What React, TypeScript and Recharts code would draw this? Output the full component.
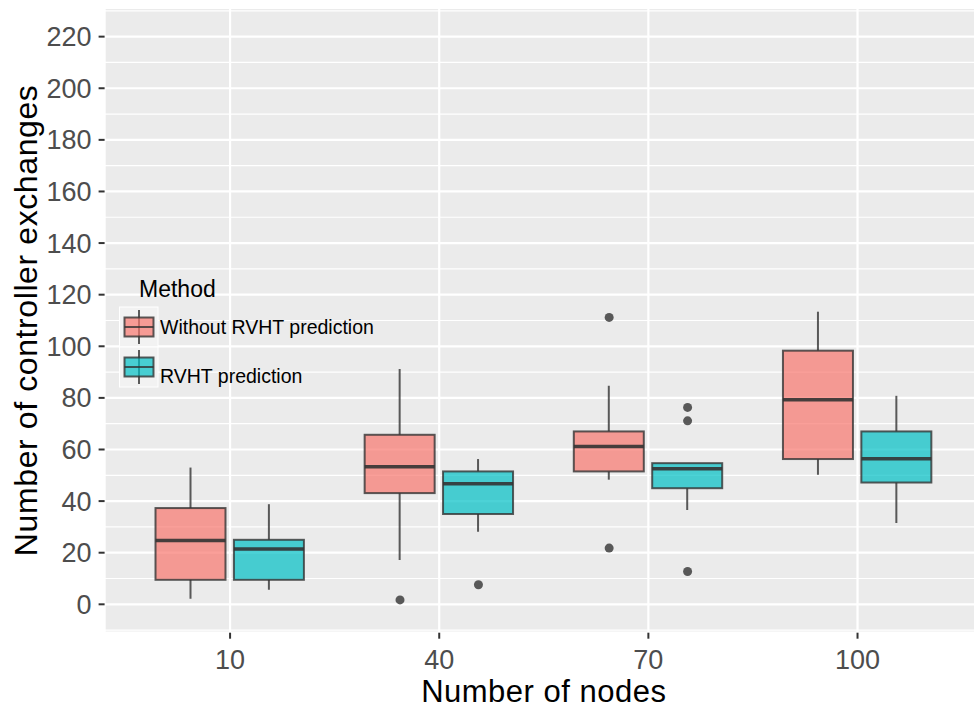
import React from "react";
import { ComposedChart, Bar, Scatter, XAxis, YAxis, CartesianGrid, Legend } from "recharts";

const NODES = ["10", "40", "70", "100"];

// box statistics per node count: whisker ends, quartiles, median
const WITHOUT_LOW = [2.2, 17.2, 48.3, 50.2];
const WITHOUT_Q1 = [9.5, 43.1, 51.5, 56.3];
const WITHOUT_MEDIAN = [24.7, 53.3, 61.2, 79.3];
const WITHOUT_Q3 = [37.3, 65.7, 67, 98.3];
const WITHOUT_HIGH = [53, 91.2, 84.7, 113.4];
const WITHOUT_OUTLIERS = [[], [1.7], [111.2, 21.8], []];

const RVHT_LOW = [5.6, 28.1, 36.6, 31.5];
const RVHT_Q1 = [9.5, 35, 45, 47.2];
const RVHT_MEDIAN = [21.4, 46.7, 52.5, 56.4];
const RVHT_Q3 = [25, 51.5, 54.7, 67];
const RVHT_HIGH = [38.8, 56.3, 54.7, 80.8];
const RVHT_OUTLIERS = [[], [7.6], [76.3, 71.1, 12.7], []];

const Y_TICKS = [0, 20, 40, 60, 80, 100, 120, 140, 160, 180, 200, 220];
const Y_MINOR = [-10, 10, 30, 50, 70, 90, 110, 130, 150, 170, 190, 210, 230];
const Y_DOMAIN = [-11, 231.1];

const FONT = "'Liberation Sans', Arial, sans-serif";
const DODGE = 0.1875;

const SERIES = [
  {
    key: "without",
    name: "Without RVHT prediction",
    color: "#F8766D",
    low: WITHOUT_LOW,
    q1: WITHOUT_Q1,
    median: WITHOUT_MEDIAN,
    q3: WITHOUT_Q3,
    high: WITHOUT_HIGH,
    outliers: WITHOUT_OUTLIERS,
  },
  {
    key: "rvht",
    name: "RVHT prediction",
    color: "#00BFC4",
    low: RVHT_LOW,
    q1: RVHT_Q1,
    median: RVHT_MEDIAN,
    q3: RVHT_Q3,
    high: RVHT_HIGH,
    outliers: RVHT_OUTLIERS,
  },
];

const rows = NODES.map((nodes, i) => {
  const row: any = { nodes };
  SERIES.forEach((s) => {
    row[s.key] = { low: s.low[i], q1: s.q1[i], median: s.median[i], q3: s.q3[i], high: s.high[i] };
  });
  return row;
});

// outliers sit on a numeric copy of the x axis, dodged like the boxes
const outlierPoints = SERIES.flatMap((s, si) =>
  s.outliers.flatMap((vals, gi) =>
    vals.map((value) => ({ pos: gi + (si === 0 ? -DODGE : DODGE), value }))
  )
);

const LINE = "#333333";

function BoxShape(props: any) {
  const { x, y, width, height, stats, color } = props;
  if (!stats) return null;
  const top = Math.min(y, y + height);
  const h = Math.abs(height);
  const k = h / (stats.q3 - stats.q1);
  const py = (v: number) => top + (stats.q3 - v) * k;
  const cx = x + width / 2;
  return (
    <g>
      <line x1={cx} x2={cx} y1={py(stats.high)} y2={top} stroke={LINE} strokeOpacity={0.8} strokeWidth={2} />
      <line x1={cx} x2={cx} y1={top + h} y2={py(stats.low)} stroke={LINE} strokeOpacity={0.8} strokeWidth={2} />
      <rect x={x} y={top} width={width} height={h} fill={color} fillOpacity={0.7} stroke={LINE} strokeOpacity={0.8} strokeWidth={2} />
      <line x1={x} x2={x + width} y1={py(stats.median)} y2={py(stats.median)} stroke={LINE} strokeOpacity={0.9} strokeWidth={3.5} />
    </g>
  );
}

function MethodLegend() {
  return (
    <svg width={300} height={130} style={{ display: "block", overflow: "visible" }}>
      <text x={29} y={27} fontFamily={FONT} fontSize={23} fill="#000">
        Method
      </text>
      {SERIES.map((s, i) => {
        const top = 37 + i * 40;
        const mid = top + 20;
        return (
          <g key={s.key}>
            <rect x={9.5} y={top} width={38.5} height={40} fill="#F2F2F2" stroke="#fff" strokeWidth={1} />
            <line x1={29} x2={29} y1={top + 3} y2={top + 37} stroke={LINE} strokeOpacity={0.8} strokeWidth={2} />
            <rect x={14.5} y={mid - 9.5} width={29} height={19} fill={s.color} fillOpacity={0.7} stroke={LINE} strokeOpacity={0.8} strokeWidth={2} />
            <line x1={14.5} x2={43.5} y1={mid} y2={mid} stroke={LINE} strokeOpacity={0.8} strokeWidth={2} />
            <text x={50} y={mid + 6.5 + i * 9.5} fontFamily={FONT} fontSize={19.5} fill="#000">
              {s.name}
            </text>
          </g>
        );
      })}
    </svg>
  );
}

export default function App() {
  return (
    <div style={{ position: "absolute", left: 0, top: 0, width: 974, height: 711, overflow: "hidden", background: "#fff" }}>
      <ComposedChart
        width={1000}
        height={711}
        data={rows}
        margin={{ top: 8, right: 17, bottom: 0, left: 0 }}
        barSize={70}
        barGap={8.4}
      >
        <CartesianGrid yAxisId="minor" vertical={false} fill="#EBEBEB" stroke="#fff" strokeWidth={1.2} />
        <CartesianGrid stroke="#fff" strokeWidth={2.2} />
        <XAxis
          dataKey="nodes"
          type="category"
          height={78.3}
          padding={{ left: 20.9, right: 20.9 }}
          axisLine={false}
          tickSize={6}
          tickMargin={11}
          tickLine={{ stroke: LINE, strokeWidth: 2 }}
          tick={{ fill: "#4D4D4D", fontSize: 27, fontFamily: FONT }}
          label={{
            content: ({ viewBox }: any) => (
              <text
                x={viewBox.x + viewBox.width / 2}
                y={viewBox.y + viewBox.height - 9}
                textAnchor="middle"
                fontFamily={FONT}
                fontSize={31}
                letterSpacing={0.5}
                fill="#000"
              >
                Number of nodes
              </text>
            ),
          }}
        />
        <XAxis xAxisId="pos" dataKey="pos" type="number" domain={[-0.6, 3.6]} allowDataOverflow hide />
        <YAxis
          type="number"
          domain={Y_DOMAIN}
          allowDataOverflow
          ticks={Y_TICKS}
          width={104.6}
          axisLine={false}
          tickSize={6}
          tickMargin={7}
          tickLine={{ stroke: LINE, strokeWidth: 2 }}
          tick={{ fill: "#4D4D4D", fontSize: 27, fontFamily: FONT }}
          label={{
            content: ({ viewBox }: any) => {
              const cy = viewBox.y + viewBox.height / 2;
              return (
                <text
                  x={37}
                  y={cy}
                  transform={`rotate(-90, 37, ${cy})`}
                  textAnchor="middle"
                  fontFamily={FONT}
                  fontSize={32}
                  letterSpacing={0.6}
                  fill="#000"
                >
                  Number of controller exchanges
                </text>
              );
            },
          }}
        />
        <YAxis yAxisId="minor" type="number" domain={Y_DOMAIN} allowDataOverflow ticks={Y_MINOR} hide />
        {SERIES.map((s) => (
          <Bar
            key={s.key}
            name={s.name}
            dataKey={(d: any) => (d && d[s.key] ? [d[s.key].q1, d[s.key].q3] : undefined)}
            fill={s.color}
            isAnimationActive={false}
            shape={(p: any) => <BoxShape {...p} stats={p.payload && p.payload[s.key]} color={s.color} />}
          />
        ))}
        <Scatter
          data={outlierPoints}
          xAxisId="pos"
          dataKey="value"
          legendType="none"
          isAnimationActive={false}
          shape={(p: any) => <circle cx={p.cx} cy={p.cy} r={4.5} fill={LINE} fillOpacity={0.8} />}
        />
        <Legend
          layout="horizontal"
          verticalAlign="middle"
          align="center"
          wrapperStyle={{ left: 110, top: 270, width: 300, height: 130 }}
          content={() => <MethodLegend />}
        />
      </ComposedChart>
    </div>
  );
}
